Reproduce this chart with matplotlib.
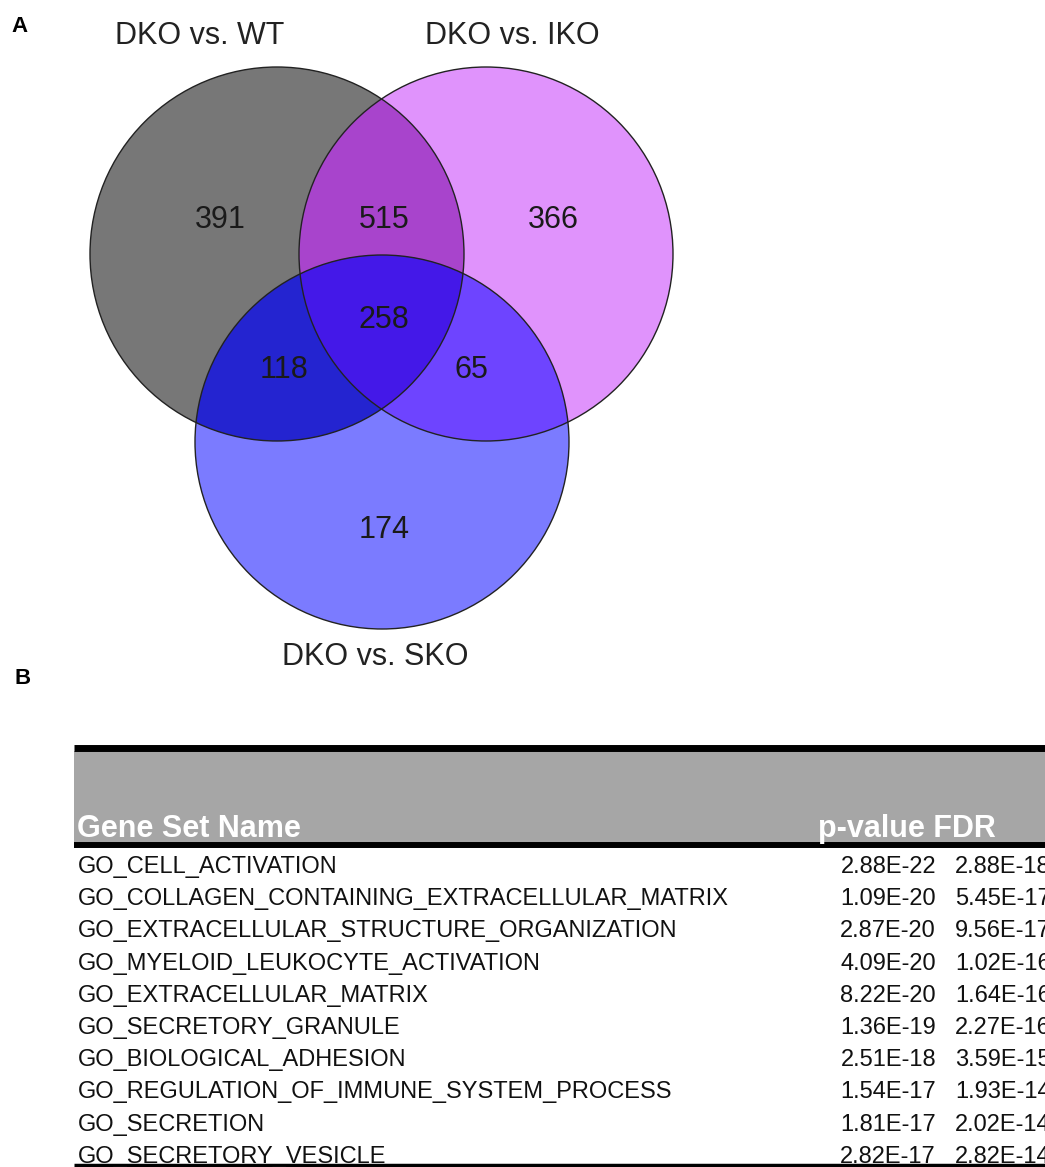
import numpy as np
import matplotlib
matplotlib.use("Agg")
import matplotlib.pyplot as plt
from matplotlib.patches import Circle, Polygon, Rectangle

plt.rcParams['font.family'] = ['Liberation Sans', 'DejaVu Sans']

# venn data
set_names = ["DKO vs. WT", "DKO vs. IKO", "DKO vs. SKO"]
only_counts = [391, 366, 174]          # WT only, IKO only, SKO only
pair_counts = [515, 118, 65]           # WT&IKO, WT&SKO, IKO&SKO
all_count = 258

# table data
gene_sets = [
    "GO_CELL_ACTIVATION",
    "GO_COLLAGEN_CONTAINING_EXTRACELLULAR_MATRIX",
    "GO_EXTRACELLULAR_STRUCTURE_ORGANIZATION",
    "GO_MYELOID_LEUKOCYTE_ACTIVATION",
    "GO_EXTRACELLULAR_MATRIX",
    "GO_SECRETORY_GRANULE",
    "GO_BIOLOGICAL_ADHESION",
    "GO_REGULATION_OF_IMMUNE_SYSTEM_PROCESS",
    "GO_SECRETION",
    "GO_SECRETORY_VESICLE",
]
pvals = ["2.88E-22", "1.09E-20", "2.87E-20", "4.09E-20", "8.22E-20",
         "1.36E-19", "2.51E-18", "1.54E-17", "1.81E-17", "2.82E-17"]
fdrs = ["2.88E-18", "5.45E-17", "9.56E-17", "1.02E-16", "1.64E-16",
        "2.27E-16", "3.59E-15", "1.93E-14", "2.02E-14", "2.82E-14"]

# layout (pixels)
W, H = 1045, 1167
circles = [(277, 254, 187), (486, 254, 187), (382, 442, 187)]
single_cols = ["#777777", "#e093fc", "#7b7bff"]
pair_cols = ["#a844cc", "#2424d0", "#6e44ff"]
all_col = "#4418e8"


def inter_poly(cs, n=1440):
    """convex polygon for the intersection of some circles"""
    pts = []
    for i, (cx, cy, r) in enumerate(cs):
        t = np.linspace(0, 2 * np.pi, n, endpoint=False)
        p = np.column_stack([cx + r * np.cos(t), cy + r * np.sin(t)])
        keep = np.ones(n, bool)
        for j, (ox, oy, orr) in enumerate(cs):
            if j != i:
                keep &= np.hypot(p[:, 0] - ox, p[:, 1] - oy) <= orr + 0.5
        pts.append(p[keep])
    pts = np.vstack(pts)
    c = pts.mean(axis=0)
    ang = np.arctan2(pts[:, 1] - c[1], pts[:, 0] - c[0])
    return pts[np.argsort(ang)]


fig = plt.figure(figsize=(W / 100, H / 100), dpi=100)
ax = fig.add_axes([0, 0, 1, 1])
ax.set_xlim(0, W)
ax.set_ylim(H, 0)
ax.axis("off")

# venn regions
for (cx, cy, r), col in zip(circles, single_cols):
    ax.add_patch(Circle((cx, cy), r, facecolor=col, edgecolor="none"))
pairs = [(0, 1), (0, 2), (1, 2)]
for (a, b), col in zip(pairs, pair_cols):
    ax.add_patch(Polygon(inter_poly([circles[a], circles[b]]), closed=True,
                         facecolor=col, edgecolor="none"))
ax.add_patch(Polygon(inter_poly(circles), closed=True, facecolor=all_col, edgecolor="none"))
for cx, cy, r in circles:
    ax.add_patch(Circle((cx, cy), r, facecolor="none", edgecolor="#222222", lw=1.0))

num_kw = dict(fontsize=22, ha="center", va="center", color="#1a1a1a")
only_pos = [(220, 220), (553, 220), (384, 530)]
pair_pos = [(384, 220), (284, 370), (471, 370)]
for (x, y), v in zip(only_pos, only_counts):
    ax.text(x, y, str(v), **num_kw)
for (x, y), v in zip(pair_pos, pair_counts):
    ax.text(x, y, str(v), **num_kw)
ax.text(384, 320, str(all_count), **num_kw)

lab_kw = dict(fontsize=22, ha="center", va="center", color="#222222")
ax.text(200, 36, set_names[0], **lab_kw)
ax.text(512, 36, set_names[1], **lab_kw)
ax.text(375, 657, set_names[2], **lab_kw)

ax.text(11, 26, "A", fontsize=16, fontweight="bold", va="center", ha="left")
ax.text(14, 678, "B", fontsize=16, fontweight="bold", va="center", ha="left")

# table
x0 = 74
ax.add_patch(Rectangle((x0, 751), W - x0, 91, facecolor="#a6a6a6", edgecolor="none"))
ax.plot([x0, W], [747.5, 747.5], color="black", lw=5.0, solid_capstyle="butt")
ax.plot([x0, W], [845, 845], color="black", lw=4.3, solid_capstyle="butt")
ax.text(77, 837, "Gene Set Name", fontsize=22, fontweight="bold", color="white",
        ha="left", va="baseline")
ax.text(818, 837, "p-value FDR", fontsize=22, fontweight="bold", color="white",
        ha="left", va="baseline")

row0, dy = 873, 32.2
for i, (name, p, f) in enumerate(zip(gene_sets, pvals, fdrs)):
    y = row0 + i * dy
    ax.text(78, y, name, fontsize=17, ha="left", va="baseline", color="#111111")
    ax.text(936, y, p, fontsize=17, ha="right", va="baseline", color="#111111")
    ax.text(955, y, f, fontsize=17, ha="left", va="baseline", color="#111111")
ax.plot([x0, W], [1165, 1165], color="black", lw=2.5, solid_capstyle="butt")

fig.savefig("out.png", dpi=100)
